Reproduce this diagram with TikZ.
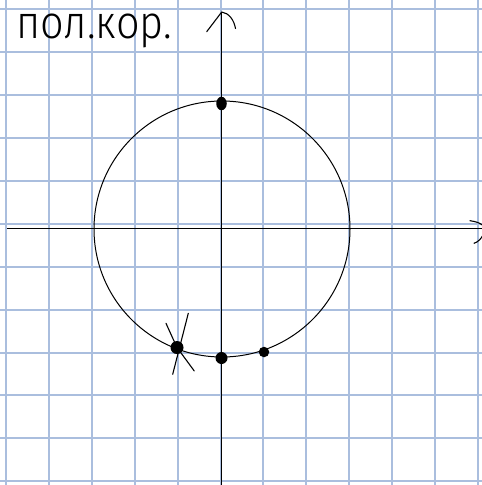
\documentclass[tikz,border=0pt]{standalone}
\usepackage{fontspec}
\usetikzlibrary{shapes.geometric}
\newfontfamily\handfont{Fira Sans Light}
\definecolor{gridblue}{RGB}{170,190,222}
\begin{document}
\begin{tikzpicture}[x=1pt,y=-1pt,
  gridline/.style={draw=gridblue,line width=2pt},
  axisline/.style={draw=black,line width=1.4pt},
  ink/.style={draw=black,line width=1.1pt,line cap=round,line join=round},
  dotmark/.style={circle,fill=black,inner sep=0pt,minimum size=#1}]
\useasboundingbox (0,0) rectangle (482,485);
\fill[white] (0,0) rectangle (482,485);
% grid
\foreach \i in {0,...,11} {
  \draw[gridline] ({6.3+42.86*\i},0) -- ({6.3+42.86*\i},485);
  \draw[gridline] (0,{9.3+42.9*\i}) -- (482,{9.3+42.9*\i});
}
% axes
\coordinate (xl) at (7,228.5);
\coordinate (xr) at (482,228.5);
\coordinate (yt) at (221.7,12);
\coordinate (yb) at (221.7,485);
\draw[axisline] (xl) -- (xr);
\draw[axisline] (yb) -- (yt);
% hand-drawn arrowheads
\draw[ink] (206.7,31.7) -- (yt) .. controls (229,13) and (234,20) .. (235.5,28.5);
\draw[ink] (470,220.7) .. controls (476,221.5) and (480,223) .. (483,225.5);
\draw[ink] (474,243.3) .. controls (478,242) and (481,239) .. (483,235);
% circle
\coordinate (O) at (222,229);
\draw[ink,line width=1pt] (O) circle[radius=128pt];
% points
\node[ellipse,fill=black,inner sep=0pt,minimum width=10.5pt,minimum height=13.5pt] (ptop) at (221.5,103.5) {};
\node[dotmark=13pt] (pa) at (177,347.5) {};
\node[dotmark=12pt] (pb) at (221.5,358) {};
\node[dotmark=10.5pt] (pc) at (264,352) {};
% cross at pa
\draw[ink] (166,323.3) .. controls (169,330) .. (pa.center) -- (194.3,371);
\draw[ink] (188.3,313.3) -- (172.7,374.3);
% label
\node[anchor=base west,inner sep=0pt,text=black] (lbl) at (16,38.5)
  {\scalebox{0.9}[1]{\handfont\fontsize{46}{50}\selectfont пол.кор.}};
\end{tikzpicture}
\end{document}
